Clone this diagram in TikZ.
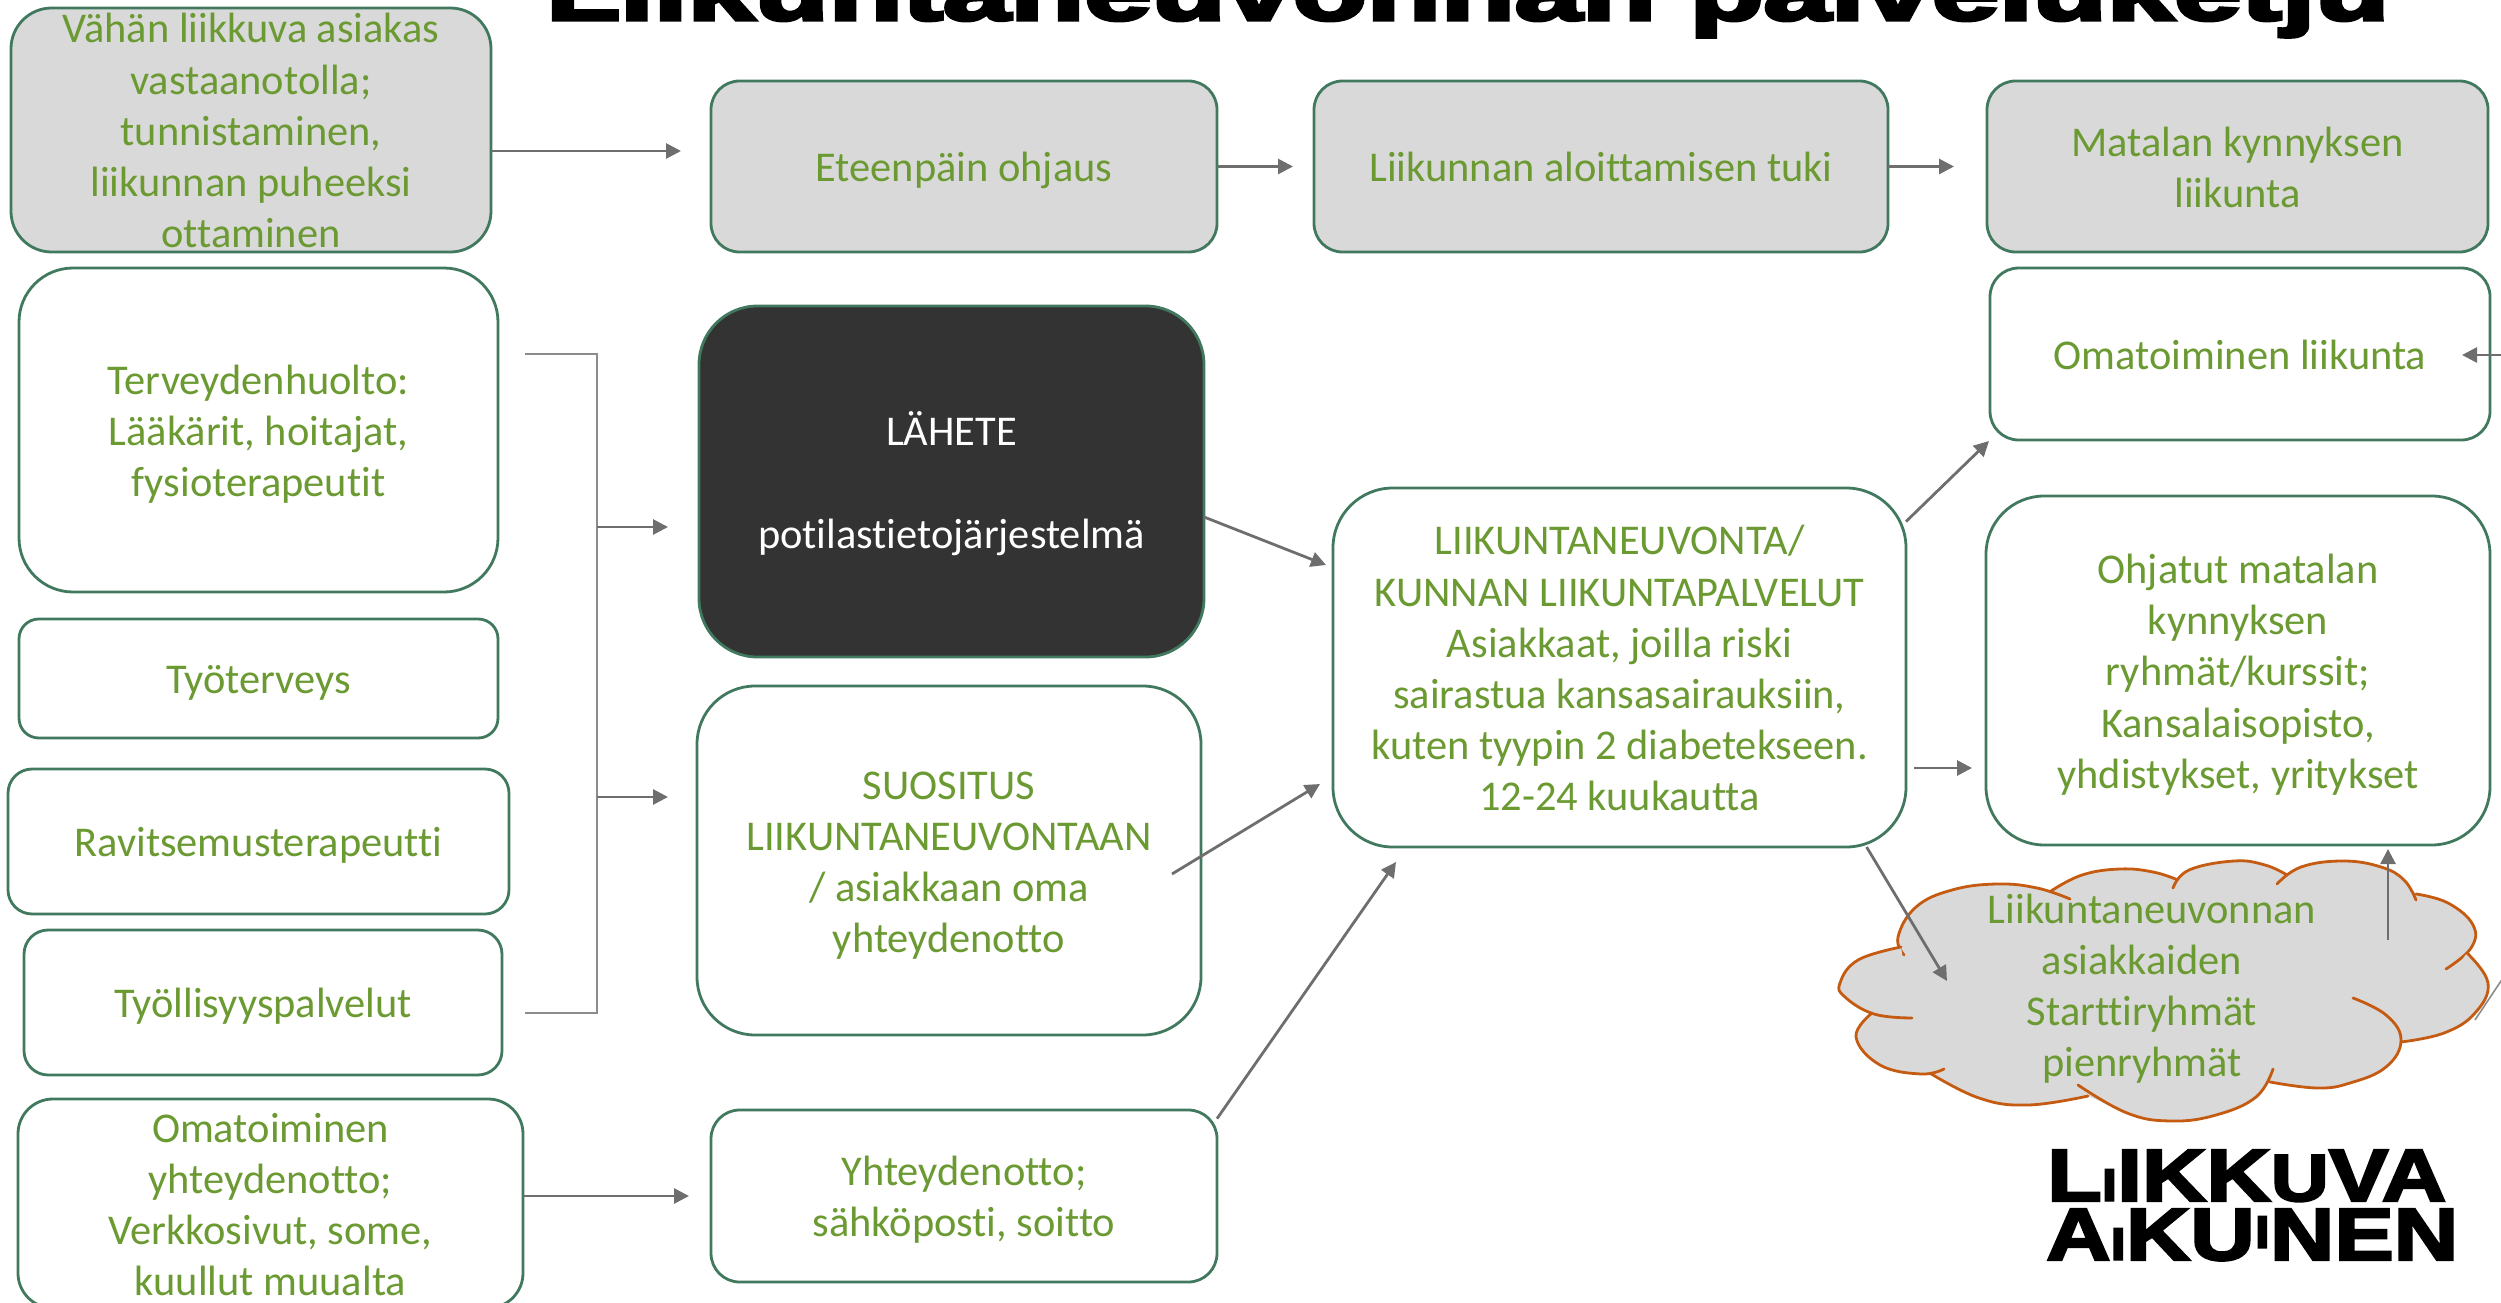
\documentclass[tikz,border=0pt]{standalone}
\usepackage{fontspec}
\usepackage{graphicx}
\usetikzlibrary{arrows.meta}
\setmainfont[Ligatures=NoCommon]{Carlito}
\newfontfamily\heavy[FakeBold=4]{Liberation Sans Bold}
\newfontfamily\heavylogo[FakeBold=3]{Liberation Sans Bold}
\definecolor{edgegreen}{HTML}{41795F}
\definecolor{txtgreen}{HTML}{6B9A32}
\definecolor{boxgray}{HTML}{D9D9D9}
\definecolor{arrgray}{HTML}{6E6E6E}
\definecolor{thingray}{HTML}{8C8C8C}
\definecolor{darkfill}{HTML}{333333}
\definecolor{cloudedge}{HTML}{C55A11}
\newcommand\topstrut{\rule{0pt}{45.6pt}}
\newcommand\botstrut{\rule[-15pt]{0pt}{15pt}}
\tikzset{
  x=1pt,y=-1pt,
  lbl/.style={text=txtgreen,align=center,font=\fontsize{42.4}{51.2}\selectfont,inner sep=0pt,outer sep=0pt},
  shapebox/.style={lbl,inner ysep=-25pt,draw=edgegreen,line width=2.8pt},
  whitebox/.style={shapebox,fill=white},
  graybox/.style={shapebox,fill=boxgray},
  darkbox/.style={shapebox,fill=darkfill,text=white},
  arr/.style={draw=arrgray,line width=2.8pt,-{Triangle[length=15pt,width=15pt]}},
  thin line/.style={draw=thingray,line width=1.6pt},
  lobe/.style={draw=cloudedge,line width=2.8pt,line cap=round},
}
\newcommand\bx[7]{%
  \pgfmathsetmacro\bw{#5-#3}\pgfmathsetmacro\bh{#6-#4}%
  \pgfmathsetmacro\br{min(\bw,\bh)/6}%
  \pgfmathsetmacro\bcx{(#3+#5)/2}\pgfmathsetmacro\bcy{(#4+#6)/2}%
  \node[#1,minimum width=\bw pt,minimum height=\bh pt,rounded corners=\br pt] (#2) at (\bcx,\bcy) {\topstrut #7\botstrut};}
\newcommand\cloudlobe[1]{%
  \fill[boxgray] plot[smooth,tension=0.7] coordinates {#1} -- cycle;
  \draw[lobe] plot[smooth,tension=0.7] coordinates {#1};}
\begin{document}
\begin{tikzpicture}
\useasboundingbox (0,0) rectangle (2501,1303);
% title
\node[anchor=base west,inner sep=0pt,text=black] (title) at (546,20)
  {\resizebox{1843pt}{60pt}{\fontsize{96}{100}\heavy Liikuntaneuvonnan palveluketju}};
% boxes
\bx{graybox}{A}{11}{8}{491}{252}{Vähän liikkuva asiakas\\vastaanotolla;\\tunnistaminen,\\liikunnan puheeksi\\ottaminen}
\bx{graybox}{B}{711}{81}{1217}{252}{Eteenpäin ohjaus}
\bx{graybox}{C}{1314}{81}{1888}{252}{Liikunnan aloittamisen tuki}
\bx{graybox}{D}{1987}{81}{2488}{252}{Matalan kynnyksen\\liikunta}
\bx{whitebox}{E}{19}{268}{498}{592}{Terveydenhuolto:\\Lääkärit, hoitajat,\\fysioterapeutit}
\bx{whitebox}{F}{19}{619}{498}{738}{Työterveys}
\bx{whitebox}{G}{8}{769}{509}{914}{Ravitsemusterapeutti}
\bx{whitebox}{H}{24}{930}{502}{1075}{Työllisyyspalvelut}
\bx{whitebox}{I}{18}{1099}{523}{1308}{Omatoiminen\\yhteydenotto;\\Verkkosivut, some,\\kuullut muualta}
\bx{darkbox}{J}{699}{306}{1204}{657}{LÄHETE\\[51.2pt]potilastietojärjestelmä}
\bx{whitebox}{K}{697}{686}{1201}{1035}{SUOSITUS\\LIIKUNTANEUVONTAAN\\/ asiakkaan oma\\yhteydenotto}
\bx{whitebox}{L}{711}{1110}{1217}{1282}{Yhteydenotto;\\sähköposti, soitto}
\bx{whitebox}{M}{1333}{488}{1906}{847}{LIIKUNTANEUVONTA/\\KUNNAN LIIKUNTAPALVELUT\\Asiakkaat, joilla riski\\sairastua kansasairauksiin,\\kuten tyypin 2 diabetekseen.\\12-24 kuukautta}
\bx{whitebox}{N}{1990}{268}{2490}{440}{Omatoiminen liikunta}
\bx{whitebox}{O}{1986}{496}{2490}{845}{Ohjatut matalan\\kynnyksen\\ryhmät/kurssit;\\Kansalaisopisto,\\yhdistykset, yritykset}
% cloud
\fill[boxgray] (1898,937) -- (1916,907) -- (1952,890) -- (1997,884) -- (2037,888) -- (2051,891) -- (2082,875) -- (2120,869) -- (2153,872) -- (2178,880) -- (2189,870) -- (2234,861) -- (2265,865) -- (2287,875) -- (2301,867) -- (2343,861) -- (2381,867) -- (2404,880) -- (2416,894) -- (2448,903) -- (2473,925) -- (2467,953) -- (2488,983) -- (2475,1013) -- (2444,1033) -- (2401,1042) -- (2386,1067) -- (2350,1083) -- (2317,1088) -- (2270,1082) -- (2256,1097) -- (2216,1115) -- (2171,1121) -- (2127,1113) -- (2088,1096) -- (2028,1105) -- (1979,1098) -- (1928,1072) -- (1921,1074) -- (1880,1065) -- (1856,1037) -- (1872,1013) -- (1845,997) -- (1840,983) -- (1858,960) -- (1901,947) -- cycle;
\cloudlobe{(1904,955) (1898,937) (1916,907) (1952,890) (1997,884) (2037,888) (2070,899)}
\cloudlobe{(2051,891) (2082,875) (2120,869) (2153,872) (2178,880)}
\cloudlobe{(2173,888) (2189,870) (2234,861) (2265,865) (2287,875)}
\cloudlobe{(2277,884) (2301,867) (2343,861) (2381,867) (2404,880) (2416,900)}
\cloudlobe{(2416,894) (2448,903) (2473,925) (2471,948) (2446,969)}
\cloudlobe{(2467,953) (2488,983) (2475,1013) (2444,1033) (2401,1042)}
\cloudlobe{(2353,998) (2386,1015) (2401,1040) (2386,1067) (2350,1083) (2317,1088) (2270,1082)}
\cloudlobe{(2273,1069) (2256,1097) (2216,1115) (2171,1121) (2127,1113) (2078,1085)}
\cloudlobe{(2088,1096) (2028,1105) (1979,1098) (1928,1072)}
\cloudlobe{(1944,1069) (1921,1074) (1880,1065) (1856,1037) (1872,1013)}
\cloudlobe{(1912,1018) (1874,1014) (1845,997) (1840,983) (1858,960) (1901,947)}
\node[lbl] (cloud) at (2142,984.5) {\topstrut\hspace*{20pt}Liikuntaneuvonnan\\asiakkaiden\\Starttiryhmät\\pienryhmät\botstrut};
% logo
\node[anchor=base west,inner sep=0pt] (logoa) at (2047,1201)
  {\resizebox{399pt}{51pt}{\heavylogo\fontsize{76}{80}\selectfont L\scalebox{.62}{I}IKK\scalebox{.9}{U}VA}};
\node[anchor=base west,inner sep=0pt] (logob) at (2046,1260)
  {\resizebox{412pt}{51pt}{\heavylogo\fontsize{76}{80}\selectfont A\scalebox{.62}{I}KU\raisebox{.38\height}{\scalebox{.62}{I}}NEN}};
% free ends
\coordinate (abTip) at (681,151);
\coordinate (bcTip) at (1293,166.5);
\coordinate (cdTip) at (1954,166.5);
\coordinate (brTop) at (525,354);
\coordinate (brCornerTop) at (597,354);
\coordinate (brCornerBot) at (597,1013);
\coordinate (brBot) at (525,1013);
\coordinate (brJ) at (597,527);
\coordinate (brJTip) at (668,527);
\coordinate (brK) at (597,797);
\coordinate (brKTip) at (668,797);
\coordinate (jmTip) at (1326,565);
\coordinate (kmStart) at (1172,874);
\coordinate (kmTip) at (1320,784);
\coordinate (lmTip) at (1396,862);
\coordinate (mnTip) at (1989,441);
\coordinate (moStart) at (1914,768);
\coordinate (moTip) at (1972,768);
\coordinate (mcTip) at (1947,981);
\coordinate (coStart) at (2388,940);
\coordinate (coTip) at (2388,849);
\coordinate (nOff) at (2510,355);
\coordinate (nTip) at (2462,355);
\coordinate (ilTip) at (689,1196);
\coordinate (thinA) at (2475,1020);
\coordinate (thinB) at (2505,975);
% connectors
\draw[arr] (A.east |- abTip) -- (abTip);
\draw[arr] (B.east) -- (bcTip);
\draw[arr] (C.east) -- (cdTip);
\draw[thin line] (brTop) -- (brCornerTop) -- (brCornerBot) -- (brBot);
\draw[arr] (brJ) -- (brJTip);
\draw[arr] (brK) -- (brKTip);
\draw[arr] (J.-8) -- (jmTip);
\draw[arr] (kmStart) -- (kmTip);
\draw[arr] (L.17) -- (lmTip);
\draw[arr] (M.27) -- (mnTip);
\draw[arr] (moStart) -- (moTip);
\draw[arr] (M.-36.4) -- (mcTip);
\draw[arr] (coStart) -- (coTip);
\draw[arr] (nOff) -- (nTip);
\draw[arr] (I.east |- ilTip) -- (ilTip);
\draw[thin line] (thinA) -- (thinB);
\end{tikzpicture}
\end{document}
